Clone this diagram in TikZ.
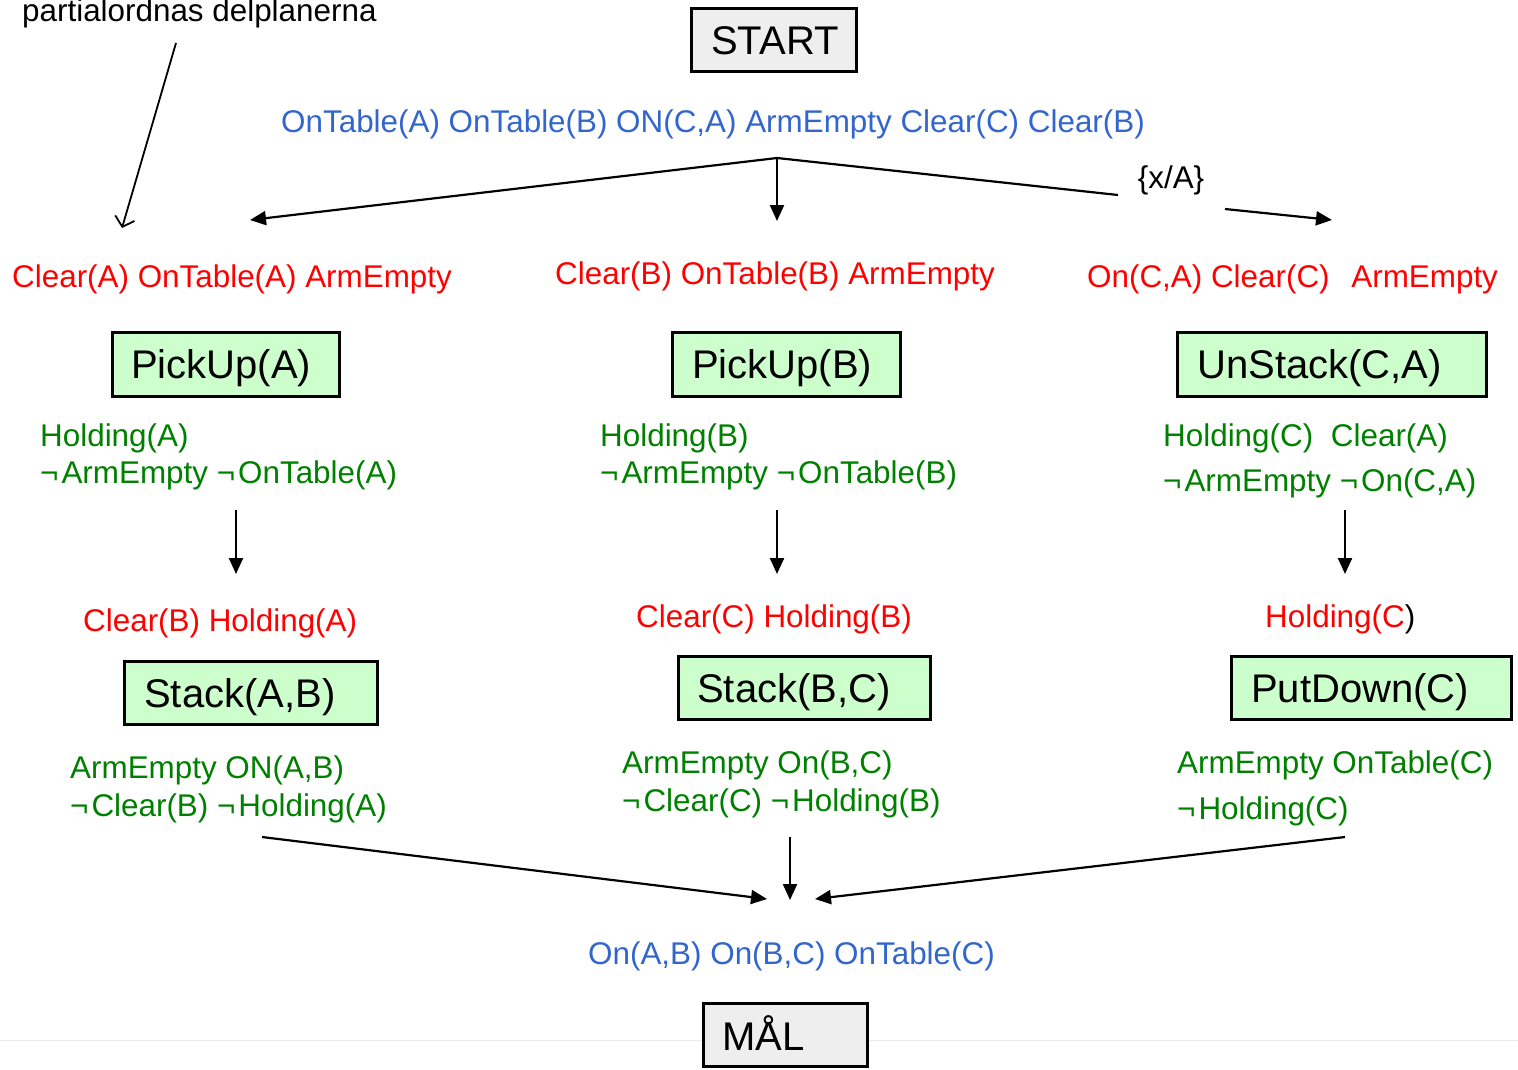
\documentclass[tikz,border=0pt]{standalone}
\usepackage{fontspec}
\setmainfont{Liberation Sans}
\usetikzlibrary{arrows.meta}
\definecolor{condblue}{RGB}{51,102,204}
\definecolor{precred}{RGB}{255,0,0}
\definecolor{effgreen}{RGB}{0,128,0}
\definecolor{opfill}{RGB}{204,255,204}
\definecolor{endfill}{RGB}{238,238,238}
% logical negation with a little room after it
\newcommand\lnegsym{¬\kern3bp}
\begin{document}
\begin{tikzpicture}[x=1bp,y=-1bp,
  txt/.style={anchor=base west,inner sep=0pt,font=\fontsize{31.4bp}{37bp}\selectfont},
  blue/.style={txt,text=condblue},
  prec/.style={txt,text=precred},
  eff/.style={txt,text=effgreen,align=left},
  oplbl/.style={anchor=base west,inner sep=0pt,font=\fontsize{40bp}{48bp}\selectfont},
  opbox/.style={draw=black,line width=2.5bp,fill=opfill,anchor=north west,inner sep=0pt},
  endbox/.style={opbox,fill=endfill},
  flow/.style={line width=2.2bp,-{Triangle[length=16bp,width=14bp]}},
  note/.style={line width=1.8bp,-{Straight Barb[length=9bp,width=20bp]}}
]
\useasboundingbox (0,0) rectangle (1518,1069);
% faint rule near the bottom
\draw[line width=1bp,black!8] (0,1040) -- (1518,1040);

% start / goal boxes
\node[endbox,minimum width=165bp,minimum height=63bp] (start) at (690,7) {};
\node[oplbl] (startlbl) at (711,54) {START};
\node[endbox,minimum width=164bp,minimum height=63bp] (goal) at (702,1002) {};
\node[oplbl] (goallbl) at (722,1050) {MÅL};

% annotation
\node[txt] (note) at (22,21) {partialordnas delplanerna};
\coordinate (noteA) at (176,43);
\coordinate (noteB) at (122,228);
\draw[note] (noteA) -- (noteB);

% initial state
\node[blue] (init) at (281,132) {OnTable(A) OnTable(B) ON(C,A) ArmEmpty Clear(C) Clear(B)};
\coordinate (split) at (777,158);
\coordinate (toL) at (250,220);
\coordinate (toM) at (777,221);
\coordinate (toRa) at (1118,195);
\coordinate (toRb) at (1225,209);
\coordinate (toR) at (1332,220);
\node[txt,anchor=center] (subst) at (1171,180) {\{x/A\}};
\draw[flow] (split) -- (toL);
\draw[flow] (split) -- (toM);
\draw[line width=2.2bp] (split) -- (toRa);
\draw[flow] (toRb) -- (toR);

% preconditions of the first actions
\node[prec] (preA) at (12,287) {Clear(A) OnTable(A) ArmEmpty};
\node[prec] (preB) at (555,284) {Clear(B) OnTable(B) ArmEmpty};
\node[prec] (preC) at (1087,287) {On(C,A) Clear(C)\hspace{13bp} ArmEmpty};

% first actions
\node[opbox,minimum width=227bp,minimum height=64bp] (pickA) at (111,331) {};
\node[oplbl] (pickAlbl) at (131,378) {PickUp(A)};
\node[opbox,minimum width=228bp,minimum height=64bp] (pickB) at (671,331) {};
\node[oplbl] (pickBlbl) at (692,378) {PickUp(B)};
\node[opbox,minimum width=309bp,minimum height=64bp] (unstack) at (1176,331) {};
\node[oplbl] (unstacklbl) at (1197,378) {UnStack(C,A)};

% effects of the first actions
\node[eff] (effA1) at (40,446) {Holding(A)};
\node[eff] (effA2) at (40,483) {\lnegsym ArmEmpty \lnegsym OnTable(A)};
\node[eff] (effB1) at (600,446) {Holding(B)};
\node[eff] (effB2) at (600,483) {\lnegsym ArmEmpty \lnegsym OnTable(B)};
\node[eff] (effC1) at (1163,446) {Holding(C)\hspace{9bp} Clear(A)};
\node[eff] (effC2) at (1163,491) {\lnegsym ArmEmpty \lnegsym On(C,A)};

\coordinate (dA1) at (236,510); \coordinate (dA2) at (236,574);
\coordinate (dB1) at (777,510); \coordinate (dB2) at (777,574);
\coordinate (dC1) at (1345,510); \coordinate (dC2) at (1345,574);
\draw[flow] (dA1) -- (dA2);
\draw[flow] (dB1) -- (dB2);
\draw[flow] (dC1) -- (dC2);

% preconditions of the second actions
\node[prec] (pre2A) at (83,631) {Clear(B) Holding(A)};
\node[prec] (pre2B) at (636,627) {Clear(C) Holding(B)};
\node[prec] (pre2C) at (1265,627) {Holding(C\textcolor{black}{)}};

% second actions
\node[opbox,minimum width=253bp,minimum height=63bp] (stackAB) at (123,660) {};
\node[oplbl] (stackABlbl) at (144,707) {Stack(A,B)};
\node[opbox,minimum width=252bp,minimum height=63bp] (stackBC) at (677,655) {};
\node[oplbl] (stackBClbl) at (697,702) {Stack(B,C)};
\node[opbox,minimum width=280bp,minimum height=63bp] (putdown) at (1230,655) {};
\node[oplbl] (putdownlbl) at (1251,702) {PutDown(C)};

% effects of the second actions
\node[eff] (eff2A1) at (70,778) {ArmEmpty ON(A,B)};
\node[eff] (eff2A2) at (70,816) {\lnegsym Clear(B) \lnegsym Holding(A)};
\node[eff] (eff2B1) at (622,773) {ArmEmpty On(B,C)};
\node[eff] (eff2B2) at (622,811) {\lnegsym Clear(C) \lnegsym Holding(B)};
\node[eff] (eff2C1) at (1177,773) {ArmEmpty OnTable(C)};
\node[eff] (eff2C2) at (1177,819) {\lnegsym Holding(C)};

% joining into the goal
\coordinate (jA) at (262,837); \coordinate (jAe) at (767,899);
\coordinate (jB) at (790,837); \coordinate (jBe) at (790,900);
\coordinate (jC) at (1345,837); \coordinate (jCe) at (815,899);
\draw[flow] (jA) -- (jAe);
\draw[flow] (jB) -- (jBe);
\draw[flow] (jC) -- (jCe);

\node[blue] (goalcond) at (588,964) {On(A,B) On(B,C) OnTable(C)};
\end{tikzpicture}
\end{document}
